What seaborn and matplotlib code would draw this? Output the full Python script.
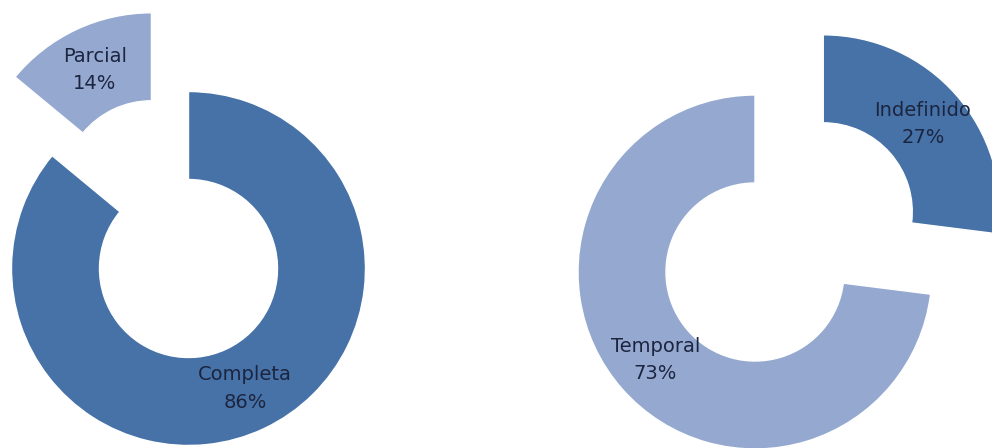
import matplotlib
matplotlib.use("Agg")
import matplotlib.pyplot as plt
import seaborn as sns

sns.set_theme(style="white")
plt.rcParams['font.family'] = ['DejaVu Sans']

# Data
left_labels = ["Completa", "Parcial"]
left_values = [86, 14]
right_labels = ["Indefinido", "Temporal"]
right_values = [27, 73]

dark = "#4672a7"
light = "#95a9d0"
text_color = "#1c2540"

fig = plt.figure(figsize=(9.92, 4.48), dpi=100)
ax = fig.add_axes([0, 0, 1, 1])

R = 177
W = 88

def donut(values, labels, colors, explode, center):
    wedges, texts = ax.pie(
        values,
        labels=[f"{l}\n{v}%" for l, v in zip(labels, values)],
        colors=colors,
        explode=explode,
        startangle=90,
        counterclock=False,
        radius=R,
        center=center,
        labeldistance=0.75,
        wedgeprops=dict(width=W, edgecolor="white", linewidth=1),
        textprops=dict(color=text_color, fontsize=14, linespacing=1.55),
        frame=True,
    )
    for t in texts:
        t.set_ha("center")
        t.set_va("center")
    return wedges

# explode given in data (pixel) units
donut(left_values, left_labels, [dark, light], [0, 87], (188.5, 448 - 268.5))
donut(right_values, right_labels, [dark, light], [91, 0], (755, 448 - 272))

ax.set_xlim(0, 992)
ax.set_ylim(0, 448)
ax.set_aspect("equal")
ax.axis("off")

fig.savefig("out.png", dpi=100, facecolor="white")
